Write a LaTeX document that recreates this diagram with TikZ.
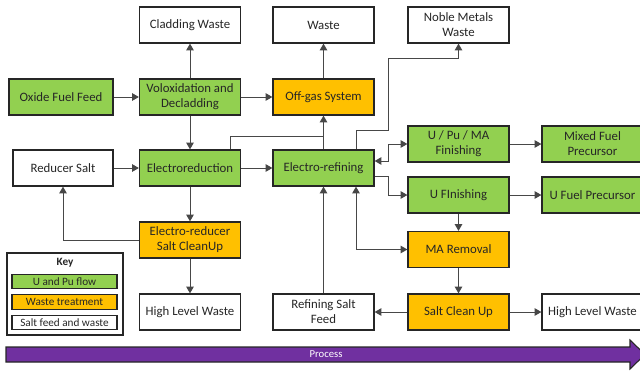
\documentclass[tikz,border=0pt]{standalone}
\usepackage{fontspec}
\setmainfont{Carlito}
\usetikzlibrary{arrows.meta}
\definecolor{gfill}{HTML}{92D050}
\definecolor{ofill}{HTML}{FFC000}
\definecolor{pfill}{HTML}{7030A0}
\definecolor{edge}{HTML}{262626}
\tikzset{
  box/.style={draw=edge, line width=0.9pt, minimum width=75.75pt, minimum height=27pt,
    inner sep=1pt, align=center, font=\fontsize{9.6}{11.2}\selectfont, text=black!85},
  gbox/.style={box, fill=gfill},
  obox/.style={box, fill=ofill},
  wbox/.style={box, fill=white},
  keyitem/.style={draw=edge, line width=0.8pt, minimum width=78.75pt, minimum height=11pt,
    inner sep=0pt, font=\fontsize{8.4}{9}\selectfont, text=black!85},
  conn/.style={draw=edge!85, line width=0.75pt, -{Triangle[length=5pt,width=5.5pt]}},
  bconn/.style={draw=edge!85, line width=0.75pt, {Triangle[length=5pt,width=5.5pt]}-{Triangle[length=5pt,width=5.5pt]}},
  plain/.style={draw=edge!85, line width=0.75pt},
}
\begin{document}
\begin{tikzpicture}[x=0.75pt,y=-0.75pt]
\useasboundingbox (0,0) rectangle (640,371);
% top row
\node[wbox] (clad) at (190,25) {Cladding Waste};
\node[wbox] (waste) at (323.5,25) {Waste};
\node[wbox] (noble) at (458.5,25) {Noble Metals\\Waste};
% row 2
\node[gbox, minimum width=78pt] (oxide) at (61,97) {Oxide Fuel Feed};
\node[gbox] (volox) at (190,97) {Voloxidation and\\Decladding};
\node[obox] (offgas) at (323.5,97) {Off-gas System};
% row 3
\node[wbox, minimum width=75pt] (reducer) at (63,168) {Reducer Salt};
\node[gbox] (ered) at (190,168) {Electroreduction};
\node[gbox] (eref) at (323.5,168) {Electro-refining};
\node[gbox] (upuma) at (458.5,144) {U / Pu / MA\\Finishing};
\node[gbox] (mixed) at (592.5,144) {Mixed Fuel\\Precursor};
\node[gbox] (ufin) at (458.5,195) {U FInishing};
\node[gbox] (ufuel) at (592.5,195) {U Fuel Precursor};
% row 4
\node[obox] (erclean) at (190,240) {Electro-reducer\\Salt CleanUp};
\node[obox] (maremoval) at (458.5,249.5) {MA Removal};
% row 5
\node[wbox] (hlw1) at (190,312) {High Level Waste};
\node[wbox] (rsf) at (323.5,312) {Refining Salt\\Feed};
\node[obox] (sclean) at (458.5,312) {Salt Clean Up};
\node[wbox] (hlw2) at (592.5,312) {High Level Waste};
% key
\node[draw=edge, line width=0.8pt, minimum width=87pt, minimum height=61.5pt, inner sep=0pt] (key) at (65,294) {};
\node[font=\bfseries\fontsize{8.4}{9}\selectfont, text=black!85] (keytitle) at (65,262.5) {Key};
\node[keyitem, fill=gfill] (k1) at (64.5,281.5) {U and Pu flow};
\node[keyitem, fill=ofill] (k2) at (64.5,302) {Waste treatment};
\node[keyitem, fill=white] (k3) at (64.5,322.5) {Salt feed and waste};
% process arrow
\draw[fill=pfill, draw=edge, line width=0.8pt]
  (6,347) -- (630,347) -- (630,340) -- (645,354.5) -- (630,369) -- (630,362) -- (6,362) -- cycle;
\node[text=white, font=\fontsize{8}{9}\selectfont] (proc) at (326,354.5) {Process};
% connectors
\draw[conn] (oxide) -- (volox);
\draw[conn] (volox) -- (clad);
\draw[conn] (volox) -- (offgas);
\draw[conn] (volox) -- (ered);
\draw[conn] (reducer) -- (ered);
\draw[conn] (ered) -- (eref);
\draw[conn] (ered) -- (erclean);
\draw[conn] (erclean.west) -| (reducer.south -| 63,0);
\draw[conn] (erclean) -- (hlw1);
\draw[conn] (offgas) -- (waste);
\draw[conn] (eref) -- (offgas);
\coordinate (j1) at (230,136);
\coordinate (j2) at (323.5,136);
\draw[plain] (ered.north -| j1) -- (j1) -- (j2);
\coordinate (n1) at (356,130);
\coordinate (n2) at (388,130);
\coordinate (n3) at (388,58);
\coordinate (n4) at (458.5,58);
\draw[conn] (eref.north -| n1) -- (n1) -- (n2) -- (n3) -- (n4) -- (noble.south);
\coordinate (b1) at (388,161);
\coordinate (b2) at (388,144);
\draw[bconn] (eref.east |- b1) -- (b1) -- (b2) -- (upuma.west);
\coordinate (u1) at (388,176);
\coordinate (u2) at (388,195);
\draw[conn] (eref.east |- u1) -- (u1) -- (u2) -- (ufin.west);
\draw[conn] (upuma) -- (mixed);
\draw[conn] (ufin) -- (ufuel);
\draw[conn] (ufin) -- (maremoval);
\draw[conn] (maremoval) -- (sclean);
\coordinate (m1) at (356,249.5);
\draw[bconn] (eref.south -| m1) -- (m1) -- (maremoval.west);
\draw[conn] (rsf) -- (eref);
\draw[conn] (sclean) -- (rsf);
\draw[conn] (sclean) -- (hlw2);
\end{tikzpicture}
\end{document}
